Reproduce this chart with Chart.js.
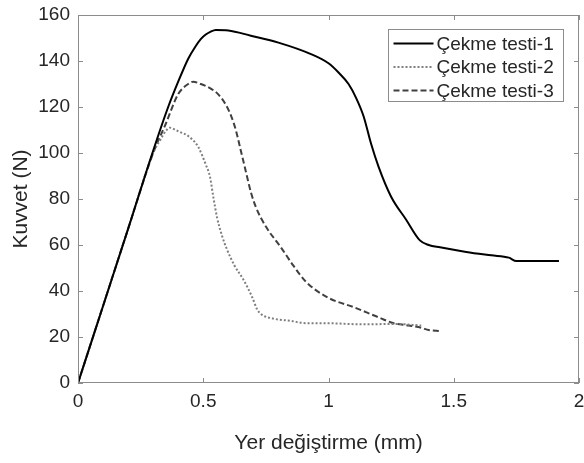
<!DOCTYPE html>
<html>
<head>
<meta charset="utf-8">
<script src="https://cdn.jsdelivr.net/npm/chart.js@4.4.1/dist/chart.umd.min.js"></script>
<style>
html,body{margin:0;padding:0;background:#fff;}
#wrap{width:584px;height:463px;position:relative;}
</style>
</head>
<body>
<div id="wrap"><canvas id="c" width="584" height="463"></canvas></div>
<script>
// ---- data ----
const labels = ["Çekme testi-1", "Çekme testi-2", "Çekme testi-3"];
const xTickValues = [0, 0.5, 1, 1.5, 2];
const yTickValues = [0, 20, 40, 60, 80, 100, 120, 140, 160];

const x1 = [0, 0.1, 0.2, 0.3, 0.36, 0.40, 0.44, 0.467, 0.49, 0.51, 0.53, 0.55, 0.6, 0.69, 0.8, 0.93, 1.0, 1.04, 1.08, 1.11, 1.14, 1.17, 1.20, 1.25, 1.31, 1.365, 1.40, 1.445, 1.55, 1.65, 1.72, 1.75, 1.85, 1.92];
const y1 = [0, 33.5, 67, 101, 120, 131, 141, 146, 149.5, 151.5, 152.8, 153.5, 153.3, 151, 148, 143, 139, 135, 130, 124, 116, 104, 94, 81, 71, 62, 60, 59, 57, 55.5, 54.5, 53, 53, 53];

const x2 = [0, 0.1, 0.2, 0.3, 0.33, 0.35, 0.367, 0.39, 0.41, 0.44, 0.48, 0.51, 0.527, 0.54, 0.555, 0.575, 0.595, 0.625, 0.66, 0.695, 0.715, 0.73, 0.78, 0.85, 0.91, 1.0, 1.07, 1.15, 1.26, 1.37];
const y2 = [0, 33.5, 67, 100, 106, 109.5, 111, 110, 109, 107.4, 102.6, 95, 89.6, 81, 72, 64, 58, 51, 45, 37.4, 32, 30, 28, 27, 26, 26, 25.7, 25.5, 25.7, 25];

const x3 = [0, 0.1, 0.2, 0.3, 0.35, 0.40, 0.44, 0.46, 0.49, 0.53, 0.56, 0.59, 0.61, 0.63, 0.65, 0.67, 0.69, 0.71, 0.75, 0.81, 0.86, 0.91, 1.0, 1.10, 1.19, 1.26, 1.32, 1.37, 1.40, 1.445];
const y3 = [0, 33.5, 67, 100, 112.6, 125.6, 130, 131, 130, 128, 125.5, 121, 116.5, 110, 101, 92, 83, 76.5, 68, 59, 51, 44, 37, 33, 29, 26, 25, 24, 23, 22.6];

const pts = (xs, ys) => xs.map((x, i) => ({x: x, y: ys[i]}));

const FONT = "'Liberation Sans', Arial, sans-serif";
const TXT = '#262626';
const AX = '#8c8c8c';

// box, inward ticks, and boxed legend
const framePlugin = {
  id: 'frame',
  afterDatasetsDraw(chart) {
    const {ctx, chartArea: a, scales} = chart;
    ctx.save();
    ctx.strokeStyle = AX;
    ctx.lineWidth = 1;
    ctx.strokeRect(Math.round(a.left) + 0.5, Math.round(a.top) + 0.5, Math.round(a.right - a.left) - 1, Math.round(a.bottom - a.top) - 1);
    const tl = 5;
    ctx.beginPath();
    scales.x.ticks.forEach(t => {
      const px = Math.round(scales.x.getPixelForValue(t.value)) + 0.5;
      ctx.moveTo(px, a.bottom); ctx.lineTo(px, a.bottom - tl);
      ctx.moveTo(px, a.top); ctx.lineTo(px, a.top + tl);
    });
    scales.y.ticks.forEach(t => {
      const py = Math.round(scales.y.getPixelForValue(t.value)) + 0.5;
      ctx.moveTo(a.left, py); ctx.lineTo(a.left + tl, py);
      ctx.moveTo(a.right, py); ctx.lineTo(a.right - tl, py);
    });
    ctx.stroke();

    // legend
    const bx = 388.5, by = 29.5, bw = 175, bh = 72;
    ctx.fillStyle = '#fff';
    ctx.fillRect(bx, by, bw, bh);
    ctx.strokeStyle = '#8c8c8c';
    ctx.strokeRect(bx, by, bw, bh);
    ctx.font = '19px ' + FONT;
    ctx.textBaseline = 'middle';
    chart.data.datasets.forEach((ds, i) => {
      const yy = by + 14 + i * 23.5;
      ctx.save();
      ctx.strokeStyle = ds.borderColor;
      ctx.lineWidth = ds.borderWidth;
      ctx.setLineDash(ds.borderDash || []);
      ctx.beginPath();
      ctx.moveTo(bx + 5, yy); ctx.lineTo(bx + 45, yy);
      ctx.stroke();
      ctx.restore();
      ctx.fillStyle = TXT;
      ctx.fillText(ds.label, bx + 48, yy + 1);
    });
    ctx.restore();
  }
};

new Chart(document.getElementById('c'), {
  type: 'scatter',
  data: {
    datasets: [
      {label: labels[0], data: pts(x1, y1), showLine: true, borderColor: '#000000', borderWidth: 2, pointRadius: 0, cubicInterpolationMode: 'monotone'},
      {label: labels[1], data: pts(x2, y2), showLine: true, borderColor: '#7f7f7f', borderWidth: 2, borderDash: [2, 2], pointRadius: 0, cubicInterpolationMode: 'monotone'},
      {label: labels[2], data: pts(x3, y3), showLine: true, borderColor: '#404040', borderWidth: 2, borderDash: [6, 3], pointRadius: 0, cubicInterpolationMode: 'monotone'}
    ]
  },
  options: {
    responsive: false,
    animation: false,
    events: [],
    layout: {padding: {left: 5, right: 5, top: 15, bottom: 3}},
    plugins: {legend: {display: false}, tooltip: {enabled: false}},
    scales: {
      x: {
        type: 'linear', min: 0, max: 2,
        afterBuildTicks: s => { s.ticks = xTickValues.map(v => ({value: v})); },
        afterFit: s => { s.height = 77; s.paddingLeft = 0; s.paddingRight = 0; },
        grid: {display: false, drawTicks: false},
        border: {display: false},
        ticks: {color: TXT, font: {family: FONT, size: 19}, padding: 7, maxRotation: 0,
                callback: v => String(v)},
        title: {display: true, text: 'Yer değiştirme (mm)', color: TXT, font: {family: FONT, size: 21}}
      },
      y: {
        type: 'linear', min: 0, max: 160,
        afterBuildTicks: s => { s.ticks = yTickValues.map(v => ({value: v})); },
        afterFit: s => { s.width = 73; s.paddingTop = 0; s.paddingBottom = 0; },
        grid: {display: false, drawTicks: false},
        border: {display: false},
        ticks: {color: TXT, font: {family: FONT, size: 19}, padding: 8,
                callback: v => String(v)},
        title: {display: true, text: 'Kuvvet (N)', color: TXT, font: {family: FONT, size: 21}}
      }
    }
  },
  plugins: [framePlugin]
});
</script>
</body>
</html>
